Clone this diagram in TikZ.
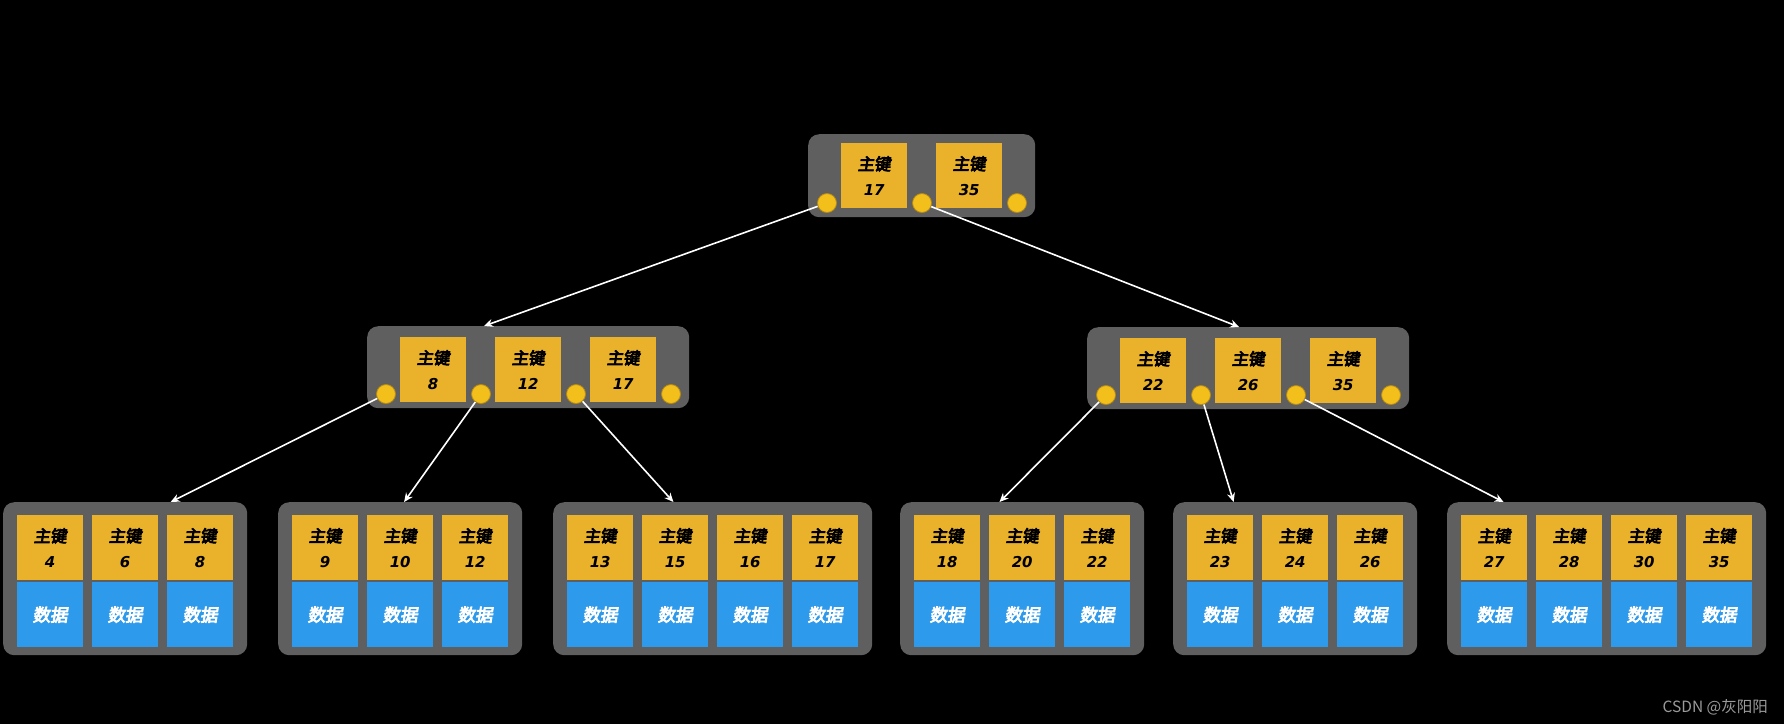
\documentclass[tikz,border=0pt]{standalone}
\usepackage{fontspec}
\usetikzlibrary{arrows.meta,calc}
\newfontfamily\kf[FakeBold=4.5,FakeSlant=0.15]{Noto Sans CJK SC}
\newfontfamily\nf{DejaVu Sans}
\newfontfamily\wmf{Noto Sans CJK SC}
\newcommand\keytext[1]{主键\\{\nf\bfseries\itshape\fontsize{15}{25}\selectfont #1}}
\definecolor{boxgray}{HTML}{5F5F5F}
\definecolor{keyyel}{HTML}{E9B22A}
\definecolor{datablue}{HTML}{2E9AEC}
\definecolor{ptryel}{HTML}{F3BF1B}
\definecolor{ptredge}{HTML}{B58A12}
\definecolor{wmgray}{HTML}{9A9A9A}
\begin{document}
\begin{tikzpicture}[x=1pt,y=-1pt,
  nodebox/.style={fill=boxgray, rounded corners=11pt, inner sep=0pt, anchor=north west, minimum width=#1},
  keybox/.style={fill=keyyel, minimum width=66pt, minimum height=65pt, inner sep=0pt, anchor=north west, align=center, text=black, font=\kf\fontsize{16.5}{25}\selectfont},
  databox/.style={fill=datablue, minimum width=66pt, minimum height=65pt, inner sep=0pt, anchor=north west, text=white, font=\kf\fontsize{17.5}{20}\selectfont},
  ptr/.style={circle, fill=ptryel, draw=ptredge, line width=0.8pt, minimum size=19pt, inner sep=0pt},
  link/.style={draw=white, line width=1.6pt, -{Stealth[length=9pt,width=8pt]}}
]
\fill[black] (0,0) rectangle (1784,724);
\useasboundingbox (0,0) rectangle (1784,724);

% root
\node[nodebox=227pt, minimum height=83pt] (R) at (808,134) {};
\node[keybox] (Rk1) at (841,143) {\keytext{17}};
\node[keybox] (Rk2) at (936,143) {\keytext{35}};
\node[ptr] (Rc0) at (827,203) {};
\node[ptr] (Rc1) at (922,203) {};
\node[ptr] (Rc2) at (1017,203) {};

% middle left
\node[nodebox=322pt, minimum height=82pt] (M1) at (367,326) {};
\node[keybox] (M1k1) at (400,337) {\keytext{8}};
\node[keybox] (M1k2) at (495,337) {\keytext{12}};
\node[keybox] (M1k3) at (590,337) {\keytext{17}};
\node[ptr] (M1c0) at (386,394) {};
\node[ptr] (M1c1) at (481,394) {};
\node[ptr] (M1c2) at (576,394) {};
\node[ptr] (M1c3) at (671,394) {};

% middle right
\node[nodebox=322pt, minimum height=82pt] (M2) at (1087,327) {};
\node[keybox] (M2k1) at (1120,338) {\keytext{22}};
\node[keybox] (M2k2) at (1215,338) {\keytext{26}};
\node[keybox] (M2k3) at (1310,338) {\keytext{35}};
\node[ptr] (M2c0) at (1106,395) {};
\node[ptr] (M2c1) at (1201,395) {};
\node[ptr] (M2c2) at (1296,395) {};
\node[ptr] (M2c3) at (1391,395) {};

% leaves
\foreach \i/\x/\n/\vals in {1/3/3/{4,6,8}, 2/278/3/{9,10,12}, 3/553/4/{13,15,16,17},
                            4/900/3/{18,20,22}, 5/1173/3/{23,24,26}, 6/1447/4/{27,28,30,35}} {
  \pgfmathsetmacro\w{75*\n+19}
  \node[nodebox=\w pt, minimum height=153pt] (L\i) at (\x,502) {};
  \foreach \v [count=\k] in \vals {
    \node[keybox] (L\i-k\k) at ({\x+14+75*(\k-1)},515) {\keytext{\v}};
    \node[databox] (L\i-d\k) at ({\x+14+75*(\k-1)},582) {数据};
  }
}

% connectors
\draw[link] (Rc0) -- ($(M1.north west)!0.363!(M1.north east)$);
\draw[link] (Rc1) -- ($(M2.north west)!0.472!(M2.north east)$);
\draw[link] (M1c0) -- ($(L1.north west)!0.686!(L1.north east)$);
\draw[link] (M1c1) -- ($(L2.north west)!0.516!(L2.north east)$);
\draw[link] (M1c2) -- ($(L3.north west)!0.377!(L3.north east)$);
\draw[link] (M2c0) -- ($(L4.north west)!0.407!(L4.north east)$);
\draw[link] (M2c1) -- ($(L5.north west)!0.248!(L5.north east)$);
\draw[link] (M2c2) -- ($(L6.north west)!0.177!(L6.north east)$);

% watermark
\node[anchor=east, text=wmgray, font=\wmf\fontsize{15.5}{18}\selectfont, inner sep=0pt] (wm) at (1768,707) {CSDN @灰阳阳};
\end{tikzpicture}
\end{document}
